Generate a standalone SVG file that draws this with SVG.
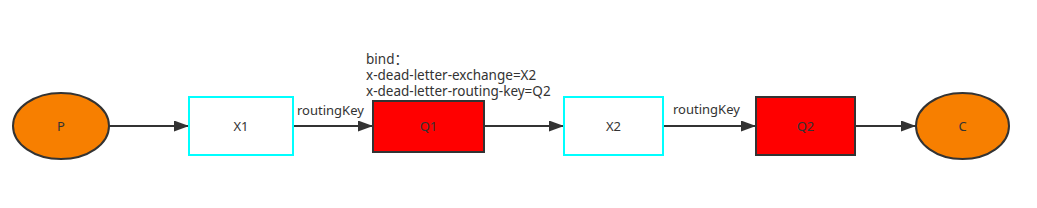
<svg xmlns="http://www.w3.org/2000/svg" width="1037" height="208" viewBox="0 0 1037 208">
<style>
text{font-family:"Noto Sans","Liberation Sans","Noto Sans CJK SC",sans-serif;font-size:13px;fill:#333}
.c{text-anchor:middle;dominant-baseline:central}
.b{font-size:13.5px}
.ell{fill:#f77f00;stroke:#333;stroke-width:2}
.ex{fill:#fff;stroke:#00ffff;stroke-width:2}
.q{fill:#ff0000;stroke:#333;stroke-width:2}
.ln{stroke:#333;stroke-width:2;fill:none;marker-end:url(#ah)}
</style>
<defs>
<marker id="ah" markerWidth="16" markerHeight="12" refX="15" refY="5.5" orient="auto" markerUnits="userSpaceOnUse">
<path d="M0,0 L15,5.5 L0,11 Z" fill="#333"/>
</marker>
</defs>
<rect width="1037" height="208" fill="#fff"/>
<g id="connectors">
<line class="ln" x1="109" y1="126" x2="189" y2="126"/>
<line class="ln" x1="293" y1="126" x2="373" y2="126"/>
<line class="ln" x1="484" y1="126" x2="564" y2="126"/>
<line class="ln" x1="663" y1="126" x2="756" y2="126"/>
<line class="ln" x1="855" y1="126" x2="916" y2="126"/>
<text x="297" y="115">routingKey</text>
<text x="673" y="114">routingKey</text>
</g>
<g id="P"><ellipse class="ell" cx="61" cy="126" rx="48" ry="33"/><text class="c" x="61" y="126">P</text></g>
<g id="X1"><rect class="ex" x="189" y="97" width="104" height="58"/><text class="c" x="241" y="126">X1</text></g>
<g id="Q1"><rect class="q" x="373" y="101" width="111" height="51"/><text class="c" x="428.5" y="126">Q1</text>
<text class="b" x="366" y="64">bind：</text>
<text class="b" x="366" y="80">x-dead-letter-exchange=X2</text>
<text class="b" x="366" y="96">x-dead-letter-routing-key=Q2</text></g>
<g id="X2"><rect class="ex" x="564" y="97" width="99" height="58"/><text class="c" x="613.5" y="126">X2</text></g>
<g id="Q2"><rect class="q" x="756" y="97" width="99" height="58"/><text class="c" x="805.5" y="126">Q2</text></g>
<g id="C"><ellipse class="ell" cx="962.5" cy="126" rx="46.5" ry="33"/><text class="c" x="962.5" y="126">C</text></g>
</svg>
